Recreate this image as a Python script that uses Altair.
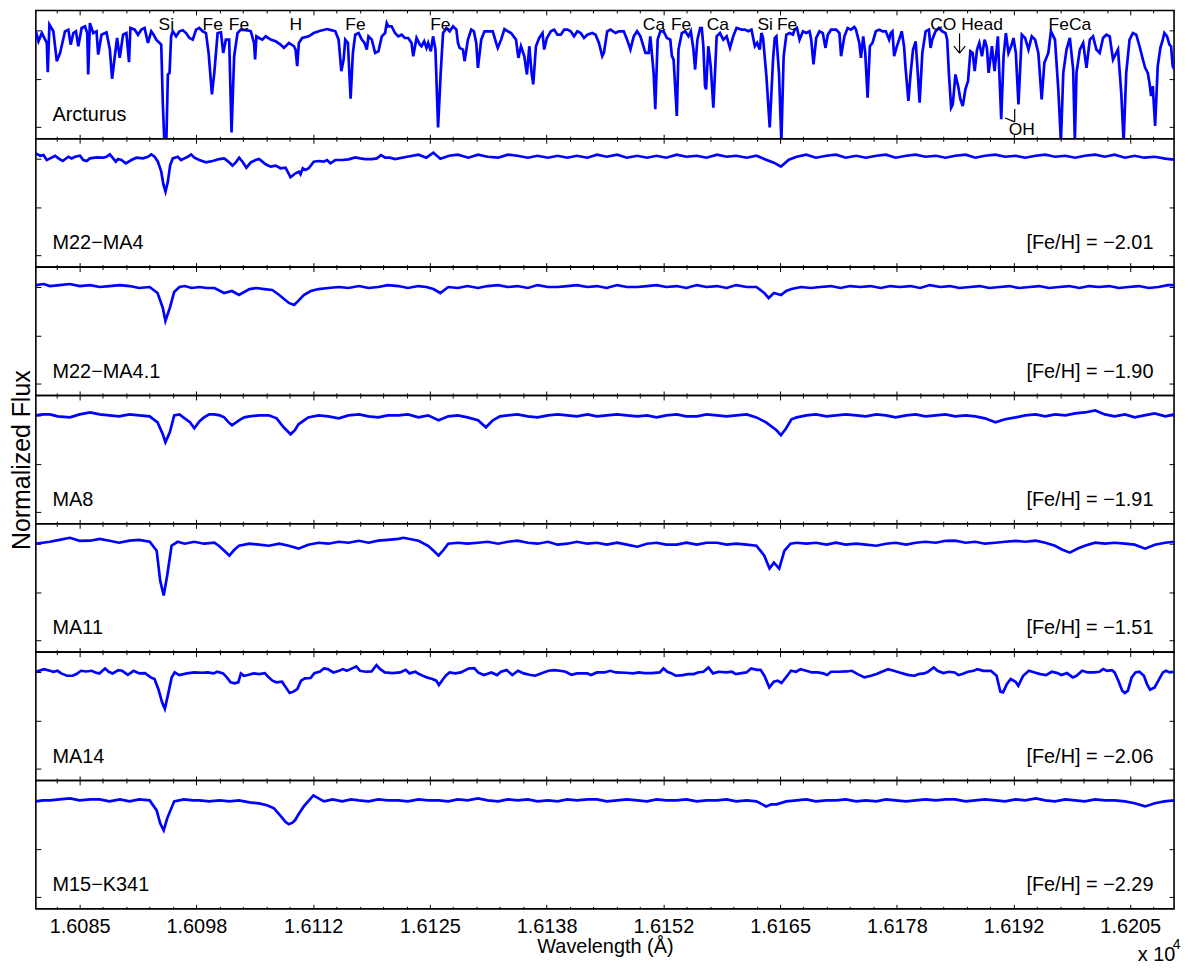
import altair as alt
import pandas as pd

# ---------------- data (wavelength in Angstrom, normalized flux) ----------------
ARCTURUS = [
    (16080.0, 0.99), (16080.3, 0.887), (16080.68, 0.972), (16080.87, 0.938), (16081.25, 0.870),
    (16081.36, 0.569), (16081.55, 1.058), (16082.0, 0.99), (16082.39, 0.682), (16082.77, 0.767),
    (16083.33, 0.99), (16083.71, 1.007), (16083.98, 0.853), (16084.28, 0.972), (16084.58, 0.99),
    (16084.85, 0.836), (16085.23, 1.024), (16085.61, 1.041), (16085.87, 0.972), (16085.98, 0.545),
    (16086.17, 1.075), (16086.55, 0.972), (16086.93, 0.99), (16087.12, 0.750), (16087.5, 0.955),
    (16088.07, 0.979), (16088.45, 0.802), (16088.71, 0.501), (16089.02, 0.733), (16089.28, 0.921),
    (16089.58, 0.716), (16089.96, 0.955), (16090.34, 0.972), (16090.64, 0.672), (16090.8, 1.024),
    (16091.29, 1.007), (16091.67, 0.955), (16092.05, 1.007), (16092.42, 1.024), (16092.8, 0.870),
    (16093.18, 0.99), (16093.45, 0.955), (16093.75, 0.904), (16094.32, 0.853), (16094.51, 0.22),
    (16094.7, -0.2), (16094.89, -0.2), (16095.08, 0.545), (16095.27, 0.562), (16095.45, 0.938),
    (16095.64, 0.99), (16096.02, 0.938), (16096.4, 0.99), (16096.78, 1.0), (16097.16, 0.972),
    (16097.54, 0.921), (16097.92, 0.904), (16098.3, 1.007), (16098.67, 1.024), (16099.05, 0.99),
    (16099.43, 0.972), (16099.73, 0.767), (16100.11, 0.34), (16100.38, 0.562), (16100.76, 0.972),
    (16101.14, 0.979), (16101.4, 0.767), (16101.7, 0.904), (16102.08, 0.904), (16102.35, -0.053),
    (16102.65, 0.733), (16103.03, 0.972), (16103.41, 1.007), (16104.17, 1.0), (16104.55, 0.99),
    (16104.92, 0.870), (16105.04, 0.699), (16105.19, 0.938), (16105.49, 0.921), (16105.87, 0.904),
    (16106.25, 0.938), (16106.82, 0.904), (16107.39, 0.887), (16107.95, 0.853), (16108.33, 0.819),
    (16108.9, 0.870), (16109.47, 0.836), (16109.66, 0.802), (16109.85, 0.631), (16110.04, 0.870),
    (16110.42, 0.921), (16111.17, 0.938), (16111.74, 0.972), (16112.31, 0.99), (16113.26, 1.013),
    (16113.83, 1.0), (16114.2, 0.99), (16114.58, 0.904), (16114.89, 0.579), (16115.15, 0.699),
    (16115.34, 0.904), (16115.64, 0.870), (16115.95, 0.296), (16116.21, 0.767), (16116.48, 0.955),
    (16116.86, 0.972), (16117.23, 0.904), (16117.54, 0.870), (16117.8, 0.802), (16117.99, 0.938),
    (16118.37, 0.904), (16118.75, 0.767), (16119.13, 0.784), (16119.51, 0.938), (16119.89, 0.972),
    (16120.08, 1.075), (16120.26, 1.041), (16120.64, 1.041), (16121.02, 0.972), (16121.4, 0.938),
    (16121.78, 0.955), (16122.15, 0.921), (16122.53, 0.921), (16122.91, 0.870), (16123.1, 0.733),
    (16123.48, 0.921), (16123.86, 0.853), (16124.05, 0.836), (16124.35, 0.887), (16124.62, 0.819),
    (16124.81, 0.870), (16125.11, 0.784), (16125.37, 0.938), (16125.64, 0.802), (16125.94, 0.0),
    (16126.24, 0.562), (16126.51, 0.972), (16126.89, 1.024), (16127.27, 0.99), (16127.65, 1.041),
    (16128.03, 1.007), (16128.21, 0.870), (16128.4, 0.819), (16128.78, 0.802), (16128.97, 0.682),
    (16129.35, 0.904), (16129.73, 1.007), (16130.03, 0.99), (16130.3, 0.870), (16130.49, 0.613),
    (16130.87, 0.904), (16131.24, 0.99), (16131.62, 0.99), (16132.19, 0.99), (16132.57, 0.870),
    (16132.76, 0.819), (16133.14, 0.904), (16133.52, 1.013), (16133.9, 0.99), (16134.28, 0.972),
    (16134.84, 0.904), (16135.11, 0.716), (16135.41, 0.836), (16135.79, 0.733), (16136.09, 0.545),
    (16136.36, 0.836), (16136.62, 0.562), (16136.81, 0.443), (16137.12, 0.836), (16137.49, 0.921),
    (16137.87, 0.972), (16138.06, 0.802), (16138.37, 0.921), (16138.82, 0.99), (16139.2, 1.007),
    (16139.58, 0.955), (16139.96, 0.955), (16140.34, 1.007), (16140.71, 1.007), (16141.09, 0.99),
    (16141.47, 0.938), (16141.85, 0.99), (16142.23, 0.972), (16142.61, 0.921), (16142.99, 0.955),
    (16143.56, 0.972), (16143.93, 0.955), (16144.31, 0.870), (16144.69, 0.733), (16144.88, 0.767),
    (16145.26, 0.99), (16145.64, 1.007), (16146.21, 0.972), (16146.59, 0.99), (16147.15, 0.99),
    (16147.53, 0.904), (16147.91, 0.802), (16148.29, 0.938), (16148.67, 0.99), (16149.05, 0.938),
    (16149.62, 0.767), (16150.0, 0.767), (16150.18, 0.938), (16150.56, 0.562), (16150.75, 0.186),
    (16151.02, 0.904), (16151.32, 0.99), (16151.7, 0.99), (16152.08, 0.921), (16152.46, 0.904),
    (16152.65, 0.733), (16152.84, 0.699), (16153.21, 0.118), (16153.4, 0.802), (16153.78, 0.972),
    (16154.16, 0.99), (16154.54, 0.938), (16154.81, 0.99), (16155.11, 0.802), (16155.3, 0.596),
    (16155.56, 0.904), (16155.87, 1.024), (16156.06, 1.024), (16156.24, 0.836), (16156.43, 0.425),
    (16156.55, 0.391), (16156.81, 0.836), (16157.08, 0.631), (16157.38, 0.203), (16157.57, 0.562),
    (16157.76, 0.938), (16158.14, 0.972), (16158.52, 0.904), (16158.9, 0.938), (16159.28, 0.819),
    (16159.65, 0.938), (16160.03, 1.024), (16160.6, 1.007), (16160.98, 1.007), (16161.36, 0.99),
    (16161.74, 1.007), (16162.12, 0.836), (16162.38, 0.870), (16162.68, 0.802), (16162.87, 0.972),
    (16163.06, 0.921), (16163.44, 0.528), (16163.82, 0.0), (16164.2, 0.699), (16164.39, 0.921),
    (16164.58, 0.938), (16164.88, 0.562), (16165.15, -0.15), (16165.41, 0.733), (16165.72, 0.955),
    (16166.1, 0.972), (16166.47, 0.955), (16166.66, 1.007), (16166.93, 1.024), (16167.23, 0.904),
    (16167.61, 0.99), (16167.99, 0.972), (16168.37, 0.99), (16168.56, 0.904), (16168.82, 0.648),
    (16169.13, 0.921), (16169.5, 0.99), (16169.88, 0.972), (16170.19, 0.819), (16170.45, 0.955),
    (16170.83, 1.007), (16171.4, 1.007), (16171.78, 0.972), (16171.97, 0.733), (16172.35, 0.938),
    (16172.72, 1.024), (16173.1, 1.007), (16173.48, 1.034), (16173.67, 1.007), (16174.05, 0.870),
    (16174.24, 0.716), (16174.5, 0.938), (16174.73, 0.767), (16175.0, 0.306), (16175.26, 0.836),
    (16175.56, 0.870), (16175.94, 0.99), (16176.32, 1.007), (16176.7, 0.99), (16177.08, 0.99),
    (16177.46, 0.904), (16177.65, 0.972), (16177.84, 0.99), (16178.03, 0.733), (16178.29, 0.819),
    (16178.6, 0.904), (16178.9, 0.99), (16179.16, 0.836), (16179.35, 0.596), (16179.66, 0.272),
    (16179.92, 0.562), (16180.19, 0.802), (16180.49, 0.887), (16180.68, 0.631), (16180.94, 0.255),
    (16181.25, 0.767), (16181.63, 0.99), (16182.0, 1.007), (16182.19, 0.819), (16182.38, 0.904),
    (16182.76, 0.99), (16183.14, 1.024), (16183.52, 0.99), (16183.9, 0.972), (16184.09, 0.904),
    (16184.28, 0.562), (16184.54, 0.203), (16184.73, 0.237), (16185.03, 0.545), (16185.34, 0.425),
    (16185.6, 0.289), (16185.87, 0.220), (16186.17, 0.391), (16186.47, 0.477), (16186.74, 0.784),
    (16187.0, 0.767), (16187.23, 0.579), (16187.5, 0.802), (16187.76, 0.870), (16188.06, 0.733),
    (16188.37, 0.904), (16188.63, 0.819), (16188.82, 0.562), (16189.2, 0.836), (16189.5, 0.579),
    (16189.88, 0.938), (16190.26, 0.084), (16190.53, 0.733), (16190.79, 0.972), (16191.09, 0.767),
    (16191.4, 0.836), (16191.66, 0.921), (16191.93, 0.767), (16192.23, 0.237), (16192.61, 0.955),
    (16192.99, 0.921), (16193.37, 0.802), (16193.75, 0.938), (16194.13, 0.904), (16194.5, 0.767),
    (16194.88, 0.289), (16195.19, 0.665), (16195.64, 0.767), (16195.94, 0.99), (16196.4, 0.904),
    (16196.78, 0.391), (16197.08, -0.15), (16197.35, 0.562), (16197.72, 0.802), (16198.1, 0.921),
    (16198.48, 0.596), (16198.67, -0.15), (16198.86, 0.562), (16199.24, 0.802), (16199.62, 0.870),
    (16200.0, 0.613), (16200.38, 0.904), (16200.75, 0.938), (16201.13, 0.802), (16201.51, 0.767),
    (16201.89, 0.921), (16202.27, 0.955), (16202.65, 0.938), (16203.03, 0.699), (16203.22, 0.733),
    (16203.6, 0.802), (16203.97, 0.357), (16204.24, -0.15), (16204.54, 0.562), (16204.92, 0.904),
    (16205.3, 0.972), (16205.68, 0.955), (16206.06, 0.836), (16206.44, 0.699), (16206.7, 0.613),
    (16207.0, 0.562), (16207.19, 0.460), (16207.38, 0.323), (16207.57, 0.425), (16207.84, 0.015),
    (16208.14, 0.631), (16208.44, 0.819), (16208.71, 0.904), (16208.9, 0.972), (16209.2, 0.938),
    (16209.47, 0.853), (16209.66, 0.836), (16209.85, 0.631), (16210.03, 0.596),
]

MA4 = [
    (16080.0, 1.054), (16080.49, 1.030), (16080.87, 1.037), (16081.25, 0.986), (16081.63, 1.003),
    (16082.2, 1.030), (16082.58, 1.003), (16083.07, 0.976), (16083.71, 1.020), (16084.09, 1.003),
    (16084.47, 1.020), (16085.04, 1.030), (16085.42, 0.986), (16085.8, 0.976), (16086.17, 1.003),
    (16086.93, 1.013), (16087.69, 1.010), (16088.07, 1.020), (16088.45, 1.044), (16088.83, 1.003),
    (16089.13, 0.969), (16089.39, 0.996), (16089.77, 0.986), (16090.27, 0.952), (16090.91, 0.986),
    (16091.48, 1.010), (16092.23, 1.003), (16092.8, 1.020), (16093.18, 1.044), (16093.56, 1.020),
    (16093.94, 0.969), (16094.32, 0.866), (16094.58, 0.730), (16094.81, 0.661), (16095.08, 0.764),
    (16095.34, 0.935), (16095.64, 1.003), (16096.21, 1.020), (16096.59, 0.986), (16096.97, 1.003),
    (16097.35, 1.020), (16097.73, 1.044), (16098.11, 1.010), (16098.67, 0.986), (16099.43, 0.962),
    (16100.19, 0.976), (16100.95, 0.996), (16101.52, 1.003), (16102.08, 0.962), (16102.46, 0.928),
    (16102.84, 0.962), (16103.22, 1.010), (16103.6, 0.969), (16104.05, 0.907), (16104.55, 0.962),
    (16105.11, 0.986), (16105.49, 0.996), (16105.87, 0.969), (16106.25, 0.942), (16106.82, 0.918),
    (16107.39, 0.928), (16107.95, 0.901), (16108.52, 0.907), (16109.09, 0.808), (16109.66, 0.849),
    (16110.04, 0.866), (16110.23, 0.839), (16110.49, 0.901), (16110.8, 0.883), (16111.17, 0.901),
    (16111.74, 0.969), (16112.31, 0.976), (16112.88, 0.969), (16113.26, 0.986), (16113.64, 0.952),
    (16114.2, 0.986), (16114.96, 0.986), (16115.72, 0.993), (16116.48, 1.013), (16117.05, 1.003),
    (16117.61, 0.996), (16118.37, 0.996), (16118.94, 1.003), (16119.43, 1.037), (16119.89, 1.010),
    (16120.45, 1.010), (16121.02, 0.996), (16122.4, 1.020), (16123.7, 1.041), (16124.6, 1.010),
    (16125.4, 1.061), (16126.2, 1.000), (16127.2, 1.030), (16128.2, 1.041), (16129.4, 1.010),
    (16130.5, 1.041), (16131.6, 1.020), (16132.8, 1.010), (16133.9, 1.041), (16135.0, 1.030),
    (16136.2, 1.010), (16137.3, 1.030), (16138.5, 1.010), (16139.6, 1.030), (16140.7, 1.010),
    (16141.8, 1.030), (16143.0, 1.010), (16144.1, 1.041), (16145.2, 1.020), (16146.4, 1.041),
    (16147.5, 1.010), (16148.7, 1.030), (16149.8, 1.010), (16150.9, 1.030), (16152.0, 1.010),
    (16153.2, 1.041), (16154.3, 1.020), (16155.5, 1.030), (16156.6, 1.010), (16157.8, 1.041),
    (16158.9, 1.020), (16160.0, 1.030), (16161.2, 1.010), (16162.3, 1.030), (16163.4, 0.990),
    (16164.3, 0.959), (16165.1, 0.918), (16166.0, 0.990), (16166.9, 1.020), (16168.0, 1.041),
    (16169.1, 1.010), (16170.3, 1.030), (16171.4, 1.041), (16172.5, 1.010), (16173.7, 1.030),
    (16174.8, 1.010), (16176.0, 1.030), (16177.1, 1.041), (16178.2, 1.010), (16179.4, 1.030),
    (16180.5, 1.041), (16181.6, 1.020), (16182.8, 1.030), (16183.9, 1.010), (16185.0, 1.030),
    (16186.2, 1.041), (16187.3, 1.010), (16188.4, 1.030), (16189.6, 1.041), (16190.7, 1.020),
    (16191.9, 1.030), (16193.0, 1.010), (16194.2, 1.030), (16195.3, 1.041), (16196.4, 1.020),
    (16197.6, 1.030), (16198.7, 1.010), (16199.8, 1.030), (16201.0, 1.041), (16202.1, 1.020),
    (16203.2, 1.041), (16204.4, 1.010), (16205.5, 1.030), (16206.6, 1.010), (16207.8, 1.020),
    (16209.0, 1.000), (16210.0, 0.990),
]

MA4_1 = [
    (16080.0, 1.020), (16080.9, 1.031), (16081.6, 1.010), (16082.7, 1.020), (16083.9, 1.031),
    (16085.0, 1.010), (16086.2, 1.020), (16087.3, 1.0), (16088.4, 1.010), (16089.6, 1.020),
    (16090.7, 1.01), (16091.8, 0.990), (16093.0, 1.0), (16093.9, 0.938), (16094.5, 0.785),
    (16094.8, 0.651), (16095.3, 0.785), (16095.8, 0.949), (16096.4, 1.0), (16097.0, 1.010),
    (16097.8, 0.990), (16098.7, 1.0), (16099.5, 0.990), (16100.4, 0.99), (16101.5, 0.938),
    (16102.4, 0.959), (16103.2, 0.918), (16104.4, 0.979), (16105.2, 0.990), (16106.1, 0.979),
    (16107.0, 0.969), (16107.8, 0.918), (16108.9, 0.836), (16109.5, 0.815), (16110.0, 0.860),
    (16110.6, 0.918), (16111.4, 0.959), (16112.3, 0.979), (16113.4, 0.990), (16114.6, 1.0),
    (16115.7, 0.990), (16116.9, 1.01), (16118.0, 0.990), (16119.1, 1.0), (16120.2, 1.020),
    (16121.4, 1.01), (16122.5, 0.990), (16123.7, 1.01), (16124.6, 1.000), (16125.4, 0.979),
    (16126.2, 0.938), (16127.1, 1.0), (16128.2, 0.990), (16129.3, 1.01), (16130.5, 0.990),
    (16131.6, 1.010), (16132.8, 1.02), (16133.9, 1.000), (16135.0, 1.01), (16136.2, 0.990),
    (16137.3, 1.02), (16138.5, 1.000), (16139.6, 1.0), (16140.7, 1.010), (16141.8, 1.02),
    (16143.0, 1.000), (16144.1, 1.01), (16145.2, 0.990), (16146.4, 1.02), (16147.5, 1.000),
    (16148.7, 1.0), (16149.8, 1.010), (16150.9, 1.02), (16152.0, 1.000), (16153.2, 1.01),
    (16154.3, 0.990), (16155.5, 1.02), (16156.6, 1.000), (16157.8, 1.01), (16158.9, 0.990),
    (16160.0, 1.02), (16161.2, 1.000), (16162.3, 1.0), (16163.2, 0.938), (16163.7, 0.887),
    (16164.3, 0.938), (16165.1, 0.918), (16165.7, 0.960), (16166.3, 0.979), (16167.4, 1.000),
    (16168.5, 0.990), (16169.6, 1.0), (16170.8, 1.010), (16171.9, 0.990), (16173.0, 1.010),
    (16174.2, 1.000), (16175.3, 1.010), (16176.5, 0.990), (16177.6, 1.010), (16178.7, 1.000),
    (16179.9, 1.010), (16181.0, 0.990), (16182.1, 1.020), (16183.3, 1.000), (16184.4, 1.010),
    (16185.5, 0.990), (16186.7, 1.000), (16187.8, 1.010), (16188.9, 0.990), (16190.1, 1.000),
    (16191.2, 1.010), (16192.3, 0.990), (16193.5, 1.000), (16194.6, 1.010), (16195.7, 0.990),
    (16196.9, 1.000), (16198.0, 1.010), (16199.2, 0.990), (16200.3, 1.010), (16201.4, 1.000),
    (16202.6, 1.010), (16203.7, 0.990), (16204.8, 1.000), (16206.0, 1.010), (16207.1, 0.990),
    (16208.2, 1.000), (16209.3, 1.020), (16210.0, 1.020),
]

MA8 = [
    (16080.0, 1.0), (16080.8, 1.010), (16081.6, 1.01), (16082.5, 0.990), (16083.9, 0.979),
    (16085.0, 1.010), (16086.2, 1.031), (16087.3, 1.010), (16088.4, 1.0), (16089.5, 0.990),
    (16090.7, 1.01), (16091.8, 1.000), (16093.0, 0.99), (16093.9, 0.928), (16094.5, 0.805),
    (16094.8, 0.723), (16095.3, 0.826), (16095.8, 1.0), (16096.4, 1.010), (16097.0, 0.969),
    (16097.6, 0.930), (16098.1, 0.867), (16098.7, 0.940), (16099.2, 0.979), (16099.8, 1.010),
    (16100.4, 1.01), (16101.0, 1.000), (16101.5, 0.979), (16102.0, 0.930), (16102.4, 0.897),
    (16103.2, 0.949), (16103.8, 0.979), (16104.4, 0.99), (16105.5, 1.000), (16106.6, 1.0),
    (16107.5, 0.969), (16108.3, 0.877), (16109.1, 0.805), (16109.6, 0.850), (16110.0, 0.908),
    (16111.1, 0.979), (16112.3, 1.0), (16113.4, 0.990), (16114.6, 0.969), (16115.7, 1.000),
    (16116.9, 1.01), (16118.0, 0.990), (16119.1, 0.979), (16120.2, 1.000), (16121.4, 1.0),
    (16122.5, 1.010), (16123.7, 0.979), (16124.8, 1.000), (16126.0, 0.949), (16127.1, 0.990),
    (16128.2, 1.0), (16129.3, 0.979), (16130.5, 0.949), (16131.4, 0.877), (16132.2, 0.949),
    (16133.0, 0.990), (16133.9, 1.0), (16135.0, 1.010), (16136.2, 0.990), (16137.3, 0.979),
    (16138.5, 1.000), (16139.6, 1.010), (16140.7, 1.0), (16141.8, 0.990), (16143.0, 1.010),
    (16144.1, 0.99), (16145.2, 1.000), (16146.4, 1.010), (16147.5, 1.0), (16148.7, 0.990),
    (16149.8, 1.000), (16150.9, 0.979), (16152.0, 1.000), (16153.2, 1.010), (16154.3, 0.990),
    (16155.5, 0.99), (16156.6, 1.010), (16157.8, 1.000), (16158.9, 0.990), (16160.0, 1.0),
    (16161.2, 1.010), (16162.3, 0.979), (16163.4, 0.928), (16164.6, 0.846), (16165.1, 0.795),
    (16165.7, 0.867), (16166.3, 0.960), (16166.9, 0.979), (16168.0, 1.000), (16169.1, 1.010),
    (16170.3, 0.99), (16171.4, 1.000), (16172.5, 1.010), (16173.7, 1.0), (16174.8, 0.990),
    (16176.0, 1.010), (16177.1, 1.000), (16178.2, 0.979), (16179.4, 1.000), (16180.5, 1.010),
    (16181.6, 0.990), (16182.8, 1.0), (16183.9, 1.010), (16185.0, 0.990), (16186.2, 1.000),
    (16187.3, 0.99), (16188.4, 0.969), (16189.6, 0.928), (16190.7, 0.960), (16191.9, 0.979),
    (16193.0, 1.000), (16194.2, 1.010), (16195.3, 0.990), (16196.4, 1.01), (16197.6, 1.000),
    (16198.7, 1.020), (16199.8, 1.030), (16201.0, 1.051), (16202.1, 1.010), (16203.2, 0.990),
    (16204.4, 1.010), (16205.5, 0.979), (16206.6, 1.000), (16207.8, 1.020), (16209.0, 0.990),
    (16210.0, 1.01),
]

MA11 = [
    (16080.0, 1.0), (16080.8, 1.010), (16081.6, 1.02), (16082.7, 1.040), (16083.9, 1.061),
    (16085.0, 1.030), (16086.2, 1.031), (16087.3, 1.050), (16088.4, 1.031), (16089.5, 1.010),
    (16090.7, 1.031), (16091.8, 1.040), (16093.0, 1.02), (16093.8, 0.928), (16094.2, 0.620),
    (16094.6, 0.467), (16095.0, 0.672), (16095.5, 0.979), (16096.2, 1.020), (16097.0, 1.0),
    (16098.1, 1.020), (16099.2, 1.000), (16100.4, 1.010), (16100.9, 0.979), (16101.5, 0.930),
    (16102.1, 0.877), (16102.7, 0.940), (16103.2, 0.979), (16104.4, 1.000), (16105.5, 0.990),
    (16106.6, 0.979), (16107.8, 1.000), (16108.9, 0.979), (16110.0, 0.949), (16111.1, 0.990),
    (16112.3, 1.010), (16113.4, 1.000), (16114.6, 1.02), (16115.7, 1.010), (16116.9, 1.030),
    (16118.0, 1.010), (16119.1, 1.031), (16120.2, 1.040), (16121.4, 1.050), (16122.0, 1.061),
    (16123.7, 1.031), (16124.8, 0.979), (16125.4, 0.930), (16126.0, 0.877), (16126.6, 0.940),
    (16127.1, 1.0), (16128.2, 1.010), (16129.3, 1.000), (16130.5, 1.01), (16131.6, 1.020),
    (16132.8, 1.000), (16133.9, 1.020), (16135.0, 1.031), (16136.2, 1.010), (16137.3, 1.000),
    (16138.5, 1.020), (16139.6, 0.99), (16140.7, 1.000), (16141.8, 1.020), (16143.0, 1.000),
    (16144.1, 1.01), (16145.2, 0.990), (16146.4, 1.010), (16147.5, 0.990), (16148.7, 0.969),
    (16149.8, 1.000), (16150.9, 1.010), (16152.0, 0.990), (16153.2, 0.99), (16154.3, 1.010),
    (16155.5, 0.990), (16156.6, 1.010), (16157.8, 1.01), (16158.9, 0.990), (16160.0, 1.000),
    (16161.2, 0.990), (16162.3, 0.979), (16163.2, 0.877), (16163.8, 0.744), (16164.3, 0.805),
    (16164.9, 0.744), (16165.5, 0.928), (16166.2, 1.000), (16166.9, 1.01), (16168.0, 1.000),
    (16169.1, 1.010), (16170.3, 0.990), (16171.4, 1.01), (16172.5, 0.990), (16173.7, 1.000),
    (16174.8, 0.990), (16176.0, 0.979), (16177.1, 1.000), (16178.2, 1.010), (16179.4, 0.990),
    (16180.5, 1.01), (16181.6, 1.020), (16182.8, 1.010), (16183.9, 1.030), (16185.0, 1.031),
    (16186.2, 1.010), (16187.3, 1.020), (16188.4, 1.000), (16189.6, 1.01), (16190.7, 1.020),
    (16191.9, 1.030), (16193.0, 1.020), (16194.2, 1.031), (16195.3, 1.010), (16196.4, 0.979),
    (16197.2, 0.940), (16198.1, 0.908), (16199.0, 0.950), (16199.8, 0.979), (16201.0, 1.010),
    (16202.1, 1.000), (16203.2, 1.01), (16204.4, 1.000), (16205.5, 0.990), (16206.7, 0.949),
    (16207.8, 0.990), (16209.0, 1.010), (16210.0, 1.02),
]

MA14 = [
    (16080.0, 1.003), (16080.94, 1.030), (16081.6, 1.013), (16082.03, 1.003), (16082.47, 1.013),
    (16082.9, 0.986), (16083.55, 0.962), (16084.2, 0.962), (16084.64, 0.979), (16085.16, 1.013),
    (16085.73, 1.006), (16086.38, 1.013), (16086.81, 0.996), (16087.25, 0.986), (16087.9, 1.037),
    (16088.33, 1.003), (16088.77, 0.986), (16089.42, 1.020), (16089.86, 1.013), (16090.51, 0.972),
    (16091.16, 1.013), (16091.81, 0.986), (16092.47, 0.989), (16093.12, 0.945), (16093.55, 0.928),
    (16093.99, 0.825), (16094.42, 0.688), (16094.73, 0.620), (16095.07, 0.757), (16095.51, 0.945),
    (16095.86, 0.996), (16096.38, 0.969), (16097.25, 0.986), (16098.1, 0.996), (16098.97, 0.993),
    (16099.64, 0.996), (16100.29, 0.986), (16100.72, 1.003), (16101.38, 0.986), (16101.81, 0.945),
    (16102.25, 0.894), (16102.68, 0.883), (16103.12, 0.894), (16103.42, 0.986), (16103.77, 0.962),
    (16104.2, 0.969), (16104.86, 0.986), (16105.51, 0.979), (16106.16, 0.989), (16106.59, 0.945),
    (16107.03, 0.911), (16107.46, 0.894), (16108.12, 0.900), (16108.55, 0.842), (16108.99, 0.784),
    (16109.42, 0.798), (16109.86, 0.825), (16110.29, 0.911), (16110.73, 0.935), (16111.38, 0.938),
    (16111.81, 0.989), (16112.47, 1.006), (16112.9, 1.037), (16113.34, 1.030), (16113.99, 0.996),
    (16114.64, 1.013), (16115.07, 1.030), (16115.51, 1.013), (16115.94, 1.030), (16116.6, 1.058),
    (16117.03, 1.013), (16117.68, 1.003), (16118.34, 1.006), (16118.9, 1.071), (16119.33, 1.030),
    (16119.86, 0.996), (16120.73, 0.989), (16121.6, 0.996), (16122.25, 1.023), (16122.68, 0.986),
    (16123.34, 1.003), (16123.77, 0.979), (16124.64, 0.945), (16125.29, 0.928), (16125.73, 0.911),
    (16126.03, 0.866), (16126.38, 0.911), (16126.81, 0.962), (16127.25, 0.996), (16127.9, 0.986),
    (16128.55, 0.996), (16129.42, 1.037), (16130.07, 1.041), (16130.51, 0.996), (16131.16, 0.969),
    (16132.03, 0.996), (16132.68, 0.969), (16133.12, 1.003), (16133.77, 1.020), (16134.42, 0.969),
    (16135.07, 1.013), (16135.73, 0.986), (16136.38, 0.972), (16137.03, 0.962), (16137.68, 0.986),
    (16138.55, 1.013), (16139.2, 1.020), (16139.86, 1.013), (16140.51, 1.003), (16141.16, 0.972),
    (16141.81, 0.986), (16142.47, 0.986), (16142.99, 0.986), (16143.42, 0.969), (16144.08, 0.996),
    (16144.95, 0.996), (16145.6, 1.013), (16146.25, 0.996), (16147.34, 0.993), (16148.21, 0.986),
    (16148.86, 0.996), (16149.51, 0.989), (16150.38, 0.989), (16151.25, 0.996), (16151.69, 1.037),
    (16152.12, 1.003), (16152.56, 0.989), (16153.08, 0.962), (16153.86, 0.969), (16154.51, 0.979),
    (16155.16, 0.979), (16155.6, 0.996), (16156.25, 1.003), (16156.82, 1.047), (16157.34, 0.986),
    (16157.99, 1.003), (16158.86, 0.996), (16159.51, 1.003), (16159.95, 0.979), (16160.6, 0.989),
    (16161.16, 0.996), (16161.69, 1.037), (16162.34, 1.023), (16162.77, 1.023), (16163.21, 0.962),
    (16163.77, 0.842), (16164.29, 0.900), (16164.73, 0.911), (16165.16, 0.887), (16165.82, 0.962),
    (16166.25, 1.013), (16166.82, 1.003), (16167.34, 1.030), (16167.99, 1.013), (16168.64, 0.996),
    (16169.29, 0.996), (16169.95, 0.986), (16170.38, 0.969), (16170.82, 1.003), (16171.69, 1.003),
    (16172.56, 1.006), (16173.21, 1.013), (16173.86, 0.979), (16174.64, 0.945), (16175.38, 0.962),
    (16176.03, 0.979), (16176.69, 1.006), (16177.34, 1.030), (16177.99, 1.013), (16178.64, 0.996),
    (16179.29, 0.979), (16179.73, 0.969), (16180.38, 0.962), (16180.82, 0.979), (16181.47, 0.986),
    (16181.9, 1.003), (16182.56, 1.047), (16182.99, 1.013), (16183.64, 0.989), (16184.29, 1.003),
    (16184.95, 0.996), (16185.38, 0.969), (16185.82, 0.979), (16186.47, 1.003), (16187.12, 1.013),
    (16187.56, 1.030), (16188.21, 1.013), (16189.08, 1.013), (16189.73, 0.962), (16190.16, 0.798),
    (16190.47, 0.791), (16190.9, 0.876), (16191.34, 0.928), (16191.9, 0.900), (16192.21, 0.859),
    (16192.77, 0.962), (16193.42, 1.013), (16194.08, 0.996), (16194.73, 0.979), (16195.38, 0.969),
    (16196.03, 1.003), (16196.69, 0.989), (16197.12, 0.969), (16197.77, 0.989), (16198.43, 0.945),
    (16198.86, 0.962), (16199.51, 1.013), (16200.16, 0.996), (16200.82, 0.996), (16201.47, 1.003),
    (16201.9, 1.030), (16202.34, 1.013), (16202.9, 1.020), (16203.21, 0.996), (16203.64, 0.911),
    (16204.08, 0.808), (16204.38, 0.784), (16204.73, 0.808), (16205.16, 0.945), (16205.6, 0.996),
    (16206.04, 1.003), (16206.56, 0.962), (16206.91, 0.876), (16207.26, 0.818), (16207.78, 0.842),
    (16208.21, 0.911), (16208.73, 0.996), (16209.08, 1.013), (16209.52, 0.996), (16209.95, 1.003),
]

M15_K341 = [
    (16080.0, 0.99), (16080.8, 1.000), (16081.6, 1.0), (16082.7, 1.010), (16083.9, 1.02),
    (16085.0, 1.000), (16086.2, 1.010), (16087.3, 1.01), (16088.4, 0.990), (16089.6, 1.010),
    (16090.7, 0.99), (16091.8, 1.010), (16093.0, 1.0), (16093.8, 0.897), (16094.2, 0.764),
    (16094.6, 0.692), (16095.0, 0.815), (16095.8, 0.99), (16096.9, 1.010), (16098.0, 1.000),
    (16098.7, 1.0), (16099.8, 0.990), (16101.0, 1.000), (16102.1, 0.99), (16103.2, 1.000),
    (16104.4, 0.980), (16105.5, 0.969), (16106.4, 0.950), (16107.2, 0.918), (16108.0, 0.836),
    (16108.5, 0.780), (16108.9, 0.754), (16109.3, 0.770), (16109.6, 0.795), (16110.1, 0.870),
    (16110.6, 0.938), (16111.2, 1.000), (16111.7, 1.051), (16112.3, 1.020), (16112.9, 0.99),
    (16113.9, 1.010), (16115.0, 0.990), (16116.0, 1.010), (16116.9, 1.0), (16118.0, 0.990),
    (16119.1, 1.010), (16120.2, 1.000), (16121.4, 1.0), (16122.5, 0.990), (16123.7, 1.010),
    (16124.8, 1.000), (16126.0, 1.0), (16127.1, 0.990), (16128.2, 1.010), (16129.3, 1.000),
    (16130.5, 1.02), (16131.6, 1.000), (16132.8, 0.990), (16133.9, 1.010), (16135.0, 1.0),
    (16136.2, 1.010), (16137.3, 0.990), (16138.5, 1.000), (16139.6, 0.99), (16140.7, 1.010),
    (16141.8, 1.000), (16143.0, 1.010), (16144.1, 1.01), (16145.2, 0.990), (16146.4, 1.000),
    (16147.5, 1.010), (16148.7, 1.0), (16149.8, 0.990), (16150.9, 1.010), (16152.0, 1.000),
    (16153.2, 1.0), (16154.3, 1.010), (16155.5, 0.990), (16156.6, 1.000), (16157.8, 1.0),
    (16158.9, 1.010), (16160.0, 0.990), (16161.2, 1.000), (16162.3, 0.99), (16163.4, 0.938),
    (16164.0, 0.960), (16164.6, 0.959), (16165.7, 0.990), (16166.9, 1.0), (16168.0, 1.010),
    (16169.1, 0.990), (16170.3, 1.000), (16171.4, 1.0), (16172.5, 1.010), (16173.7, 0.990),
    (16174.8, 1.000), (16176.0, 0.99), (16177.1, 1.010), (16178.2, 1.000), (16179.4, 0.990),
    (16180.5, 1.0), (16181.6, 1.010), (16182.8, 1.000), (16183.9, 1.010), (16185.0, 1.01),
    (16186.2, 0.990), (16187.3, 1.000), (16188.4, 1.010), (16189.6, 1.0), (16190.7, 0.990),
    (16191.9, 1.010), (16193.0, 1.000), (16194.2, 1.02), (16195.3, 1.000), (16196.4, 0.990),
    (16197.6, 1.010), (16198.7, 1.0), (16199.8, 0.990), (16201.0, 1.010), (16202.1, 1.000),
    (16203.2, 1.0), (16204.4, 0.990), (16205.5, 0.970), (16206.7, 0.938), (16207.8, 0.970),
    (16208.9, 0.99), (16210.0, 1.0),
]

STAR_NAMES = ["Arcturus", "M22\u2212MA4", "M22\u2212MA4.1", "MA8", "MA11", "MA14", "M15\u2212K341"]
FEH_TEXT = [None, "[Fe/H] = \u22122.01", "[Fe/H] = \u22121.90", "[Fe/H] = \u22121.91",
            "[Fe/H] = \u22121.51", "[Fe/H] = \u22122.06", "[Fe/H] = \u22122.29"]
SPECTRA = [ARCTURUS, MA4, MA4_1, MA8, MA11, MA14, M15_K341]

LINE_LABELS = ["Si", "Fe", "Fe", "H", "Fe", "Fe", "Ca", "Fe", "Ca", "Si", "Fe", "CO Head", "FeCa"]
LINE_LABEL_WL = [16094.9, 16100.2, 16103.2, 16109.7, 16116.5, 16126.2, 16150.6, 16153.7,
                 16157.9, 16163.3, 16165.8, 16186.3, 16198.1]

# CO band-head arrow (shaft + head) and OH bracket, in data coordinates
ARROW_SEGMENTS = [  # (wl, fx, wl2, fx2)
    (16185.5, 0.969, 16185.5, 0.764),
    (16184.85, 0.836, 16185.5, 0.764),
    (16186.15, 0.836, 16185.5, 0.764),
    (16190.7, 0.097, 16191.8, 0.056),
    (16191.8, 0.190, 16191.8, 0.056),
]

MAJOR_TICKS = [16085.0, 16098.3333, 16111.6667, 16125.0, 16138.3333, 16151.6667,
               16165.0, 16178.3333, 16191.6667, 16205.0]
MINOR_TICKS = [round(16082.3333 + 2.666667 * k, 4) for k in range(48) if k % 5 != 1]
Y_TICKS = [0.0, 0.5, 1.0]

XDOM = [16080, 16210]
YDOM = [-0.118, 1.205]
W, H = 1144, 129
BLUE = "#0000ff"
FONT = "Liberation Sans"


def xs():
    return alt.Scale(domain=XDOM, nice=False, zero=False)


def ys():
    return alt.Scale(domain=YDOM, nice=False, zero=False)


def text_layer(df, size, align="center", font=FONT):
    return alt.Chart(df).mark_text(align=align, baseline="middle", font=font,
                                   fontSize=size, color="black").encode(
        x=alt.X("wl:Q", scale=xs(), axis=None),
        y=alt.Y("fx:Q", scale=ys(), axis=None),
        text="t:N",
    )


def make_panel(idx):
    spec = SPECTRA[idx]
    df = pd.DataFrame({"wl": [p[0] for p in spec], "fx": [p[1] for p in spec]})
    last = idx == len(SPECTRA) - 1
    base = alt.Chart(df)

    bottom_kw = dict(orient="bottom", values=MAJOR_TICKS, tickSize=4.5, offset=-4.5,
                     domain=False, grid=False)
    if last:
        bottom_ax = alt.Axis(labels=True, labelExpr="format(datum.value / 10000, '.4f')",
                             labelFontSize=20, labelPadding=8, title="Wavelength (\u00c5)",
                             titleFontSize=20, titlePadding=0, **bottom_kw)
    else:
        bottom_ax = alt.Axis(labels=False, title=None, **bottom_kw)

    left_kw = dict(orient="left", values=Y_TICKS, tickSize=5, offset=-5, domain=False,
                   grid=False, labels=False, minExtent=0)
    if idx == 3:
        left_ax = alt.Axis(title="Normalized Flux", titleFontSize=25, titlePadding=1, **left_kw)
    else:
        left_ax = alt.Axis(title=None, **left_kw)

    line = base.mark_line(color=BLUE, strokeWidth=2.7, clip=True).encode(
        x=alt.X("wl:Q", scale=xs(), axis=bottom_ax),
        y=alt.Y("fx:Q", scale=ys(), axis=left_ax),
    )
    ghost = base.mark_line(strokeOpacity=0, clip=True)
    top_major = ghost.encode(
        x=alt.X("wl:Q", scale=xs(), axis=alt.Axis(orient="top", values=MAJOR_TICKS, tickSize=4.5,
                                                   offset=-4.5, domain=False, grid=False,
                                                   labels=False, title=None)),
        y=alt.Y("fx:Q", scale=ys(), axis=alt.Axis(orient="right", values=Y_TICKS, tickSize=5,
                                                   offset=-5, domain=False, grid=False,
                                                   labels=False, title=None, minExtent=0)),
    )
    bottom_minor = ghost.encode(
        x=alt.X("wl:Q", scale=xs(), axis=alt.Axis(orient="bottom", values=MINOR_TICKS, tickSize=2.5,
                                                   offset=-2.5, domain=False, grid=False,
                                                   labels=False, title=None)),
        y=alt.Y("fx:Q", scale=ys(), axis=None),
    )
    top_minor = ghost.encode(
        x=alt.X("wl:Q", scale=xs(), axis=alt.Axis(orient="top", values=MINOR_TICKS, tickSize=2.5,
                                                   offset=-2.5, domain=False, grid=False,
                                                   labels=False, title=None)),
        y=alt.Y("fx:Q", scale=ys(), axis=None),
    )

    layers = [line, top_major, bottom_minor, top_minor]

    layers.append(text_layer(pd.DataFrame({"wl": [16081.9], "fx": [0.128], "t": [STAR_NAMES[idx]]}),
                             20, align="left"))
    if FEH_TEXT[idx]:
        layers.append(text_layer(pd.DataFrame({"wl": [16207.65], "fx": [0.128], "t": [FEH_TEXT[idx]]}),
                                 20, align="right"))

    if idx == 0:
        layers.append(text_layer(pd.DataFrame({"wl": LINE_LABEL_WL, "fx": [1.051] * len(LINE_LABELS),
                                               "t": LINE_LABELS}), 17.5))
        layers.append(text_layer(pd.DataFrame({"wl": [16192.6], "fx": [-0.03], "t": ["OH"]}), 17.5))
        seg_df = pd.DataFrame(ARROW_SEGMENTS, columns=["wl", "fx", "wl2", "fx2"])
        layers.append(alt.Chart(seg_df).mark_rule(color="black", strokeWidth=1.2).encode(
            x=alt.X("wl:Q", scale=xs(), axis=None), x2="wl2:Q",
            y=alt.Y("fx:Q", scale=ys(), axis=None), y2="fx2:Q"))

    if last:
        layers.append(text_layer(pd.DataFrame({"wl": [16208.0], "fx": [-0.59], "t": ["x 10"]}), 20))
        layers.append(text_layer(pd.DataFrame({"wl": [16210.3], "fx": [-0.49], "t": ["4"]}), 14))

    return alt.layer(*layers).resolve_axis(x="independent", y="independent").properties(width=W, height=H)


panels = [make_panel(i) for i in range(len(SPECTRA))]

chart = alt.vconcat(*panels, spacing=0, bounds="flush").properties(
    padding={"left": 0, "top": -2, "right": 0, "bottom": 0},
    background="white",
).configure_view(
    stroke="black", strokeWidth=1.6
).configure_axis(
    tickColor="black", tickWidth=1, labelFont=FONT, titleFont=FONT,
    labelColor="black", titleColor="black", titleFontWeight="normal",
)

chart.save("out.html", embed_options={"renderer": "svg", "actions": False})
